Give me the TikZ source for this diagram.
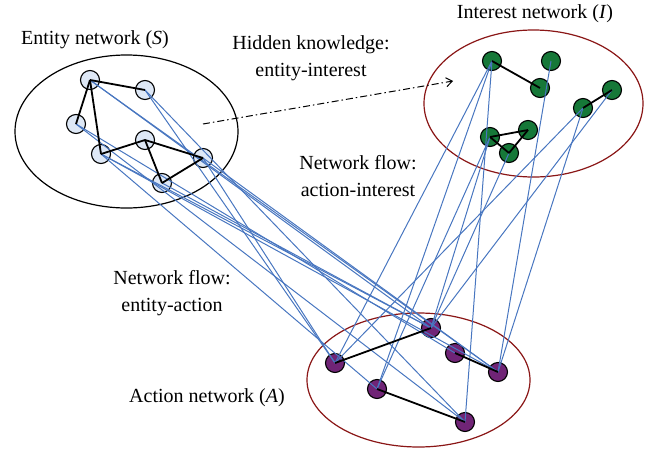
\documentclass[tikz,border=0pt]{standalone}
\usepackage{fontspec}
\setmainfont{Liberation Serif}
\usepackage{tikz}
\usetikzlibrary{arrows.meta}
\definecolor{flowblue}{RGB}{72,118,192}
\definecolor{entfill}{RGB}{222,232,246}
\definecolor{intfill}{RGB}{22,120,56}
\definecolor{actfill}{RGB}{112,36,118}
\definecolor{netred}{RGB}{138,22,22}
\begin{document}
\begin{tikzpicture}[x=1pt, y=-1pt, line join=round,
  label/.style={font=\fontsize{20}{27}\selectfont, align=center, inner sep=0pt},
  vert/.style={circle, draw=black, line width=1.1pt, minimum size=19pt, inner sep=0pt},
  ent/.style={vert, fill=entfill},
  int/.style={vert, fill=intfill},
  act/.style={vert, fill=actfill},
  flow/.style={draw=flowblue, line width=1pt},
  link/.style={draw=black, line width=1.8pt},
  hidden/.style={draw=black, line width=1pt, dash pattern=on 7pt off 3pt on 1.5pt off 3pt, -{Straight Barb[length=6pt, width=9pt]}}]
  \useasboundingbox (0,0) rectangle (648,450);

  \draw[line width=1.2pt] (126.5,131.5) ellipse [x radius=111.5, y radius=76.5];
  \draw[netred, line width=1.2pt] (533.5,103.5) ellipse [x radius=109.5, y radius=73.5];
  \draw[netred, line width=1.2pt] (418.5,380) ellipse [x radius=111.5, y radius=67];

  \node[ent] (s1) at (90,80) {};
  \node[ent] (s2) at (145,90) {};
  \node[ent] (s3) at (76,124) {};
  \node[ent] (s4) at (145,140) {};
  \node[ent] (s5) at (101,154) {};
  \node[ent] (s6) at (203,158) {};
  \node[ent] (s7) at (162,183) {};

  \node[int] (i1) at (492,61) {};
  \node[int] (i2) at (551,61) {};
  \node[int] (i3) at (540,88) {};
  \node[int] (i4) at (612,90) {};
  \node[int] (i5) at (583,108) {};
  \node[int] (i6) at (490,137) {};
  \node[int] (i7) at (528,130) {};
  \node[int] (i8) at (509,153) {};

  \node[act] (a1) at (335,363) {};
  \node[act] (a2) at (431,328) {};
  \node[act] (a3) at (455,353) {};
  \node[act] (a4) at (498,372) {};
  \node[act] (a5) at (377,389) {};
  \node[act] (a6) at (465,422) {};

  \foreach \u/\v in {s1/a2, s1/a4, s2/a1, s2/a6, s3/a3, s3/a6, s5/a2, s5/a4, s5/a5, s6/a1, s6/a4, s7/a2,
                     i1/a1, i1/a5, i1/a6, i6/a2, i6/a5, i8/a2, i4/a2, i5/a1, i2/a4, i5/a4}
    \path[flow] (\u.center) -- (\v.center);

  \foreach \u/\v in {s1/s2, s1/s3, s1/s5, s5/s4, s4/s6, s4/s7, s7/s6,
                     i1/i3, i5/i4, i6/i7, i6/i8, i8/i7,
                     a1/a2, a3/a4, a5/a6}
    \path[link] (\u.center) -- (\v.center);

  \coordinate (hstart) at (203,124);
  \coordinate (hend) at (453,81);
  \draw[hidden] (hstart) -- (hend);

  \node[label] (entlbl) at (95,40) {Entity network (\textit{S})};
  \node[label] (intlbl) at (535,14) {Interest network (\textit{I})};
  \node[label] (hidlbl) at (311,58) {Hidden knowledge:\\entity-interest};
  \node[label] (ailbl) at (358,176) {Network flow:\\action-interest};
  \node[label] (ealbl) at (172,293) {Network flow:\\entity-action};
  \node[label] (actlbl) at (207,398) {Action network (\textit{A})};
\end{tikzpicture}
\end{document}
